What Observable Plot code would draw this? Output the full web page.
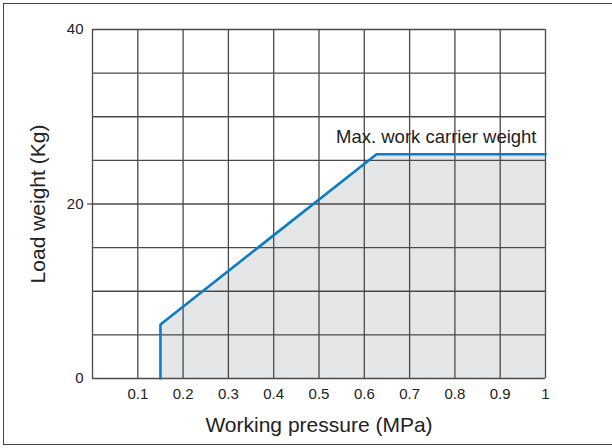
<!DOCTYPE html>
<html>
<head>
<meta charset="utf-8">
<script src="https://cdn.jsdelivr.net/npm/d3@7"></script>
<script src="https://cdn.jsdelivr.net/npm/@observablehq/plot@0.6"></script>
<style>
  html, body { margin: 0; padding: 0; background: #fff; }
  #wrap { position: relative; width: 612px; height: 448px; overflow: hidden; }
  #border { position: absolute; left: 3px; top: 3px; width: 720px; height: 442px; border: 1.5px solid #444; box-sizing: border-box; }
  #chart { position: absolute; left: 0; top: 0; }
</style>
</head>
<body>
<div id="wrap"><div id="border"></div><div id="chart"></div></div>
<script>
// Data
const pressure = [0.15, 0.15, 0.627, 1.0];     // MPa
const load     = [0,    6.2,  25.7,  25.7];    // Kg
const xTicks = [0.1, 0.2, 0.3, 0.4, 0.5, 0.6, 0.7, 0.8, 0.9, 1];
const yTicks = [0, 20, 40];
const xGrid = [0, 0.1, 0.2, 0.3, 0.4, 0.5, 0.6, 0.7, 0.8, 0.9, 1];
const yGrid = [0, 5, 10, 15, 20, 25, 30, 35, 40];
const xLabel = "Working pressure (MPa)";
const yLabel = "Load weight (Kg)";
const annotation = "Max. work carrier weight";

const pts = pressure.map((p, i) => ({p, w: load[i]}));
const font = "Arial, 'Liberation Sans', Helvetica, sans-serif";

const chart = Plot.plot({
  width: 612,
  height: 448,
  marginLeft: 92,
  marginRight: 67,
  marginTop: 29,
  marginBottom: 70,
  style: {fontFamily: font, color: "#222", background: "transparent"},
  x: {domain: [0, 1]},
  y: {domain: [0, 40]},
  marks: [
    Plot.areaY(pts, {x: "p", y: "w", fill: "#e5e6e8"}),
    Plot.ruleX(xGrid, {stroke: "#4a4a4a", strokeWidth: 1.3}),
    Plot.ruleY(yGrid, {stroke: "#4a4a4a", strokeWidth: 1.3}),
    Plot.line(pts, {x: "p", y: "w", stroke: "#0c7cc5", strokeWidth: 2.6}),
    Plot.text([annotation], {x: () => 1, y: () => 25.7, dx: -9, dy: -17, textAnchor: "end", fontSize: 18.5, fill: "#222"}),
    Plot.axisX({ticks: xTicks, tickSize: 0, tickPadding: 10, fontSize: 15, tickFormat: d => String(d), label: null}),
    Plot.axisY({ticks: yTicks, tickSize: 0, tickPadding: 9, fontSize: 15, tickFormat: d => String(d), label: null}),
    Plot.axisY({ticks: [20], tickSize: 5, stroke: "#222", tickFormat: () => "", label: null}),
    Plot.text([xLabel], {frameAnchor: "bottom", lineAnchor: "middle", textAnchor: "middle", dy: 47, fontSize: 21, fill: "#222"}),
    Plot.text([yLabel], {frameAnchor: "left", lineAnchor: "middle", textAnchor: "middle", dx: -54, rotate: -90, fontSize: 21, fill: "#222"})
  ]
});
document.getElementById("chart").appendChild(chart);
</script>
</body>
</html>
